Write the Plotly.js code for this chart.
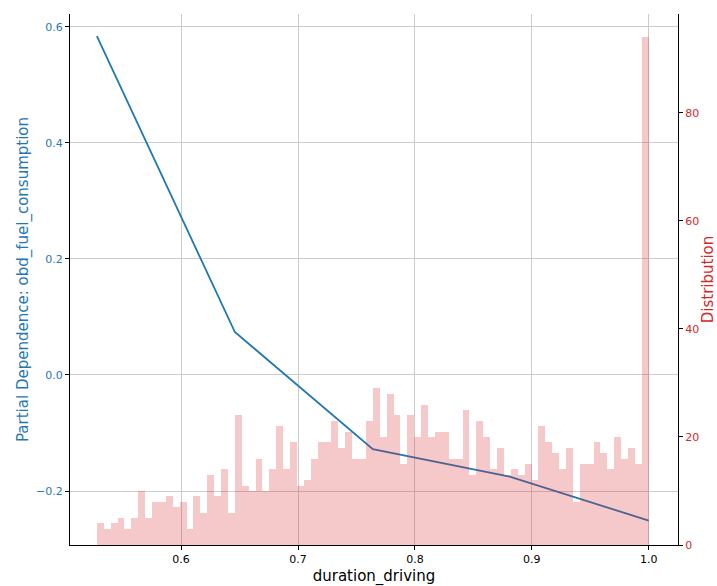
<!DOCTYPE html>
<html>
<head>
<meta charset="utf-8">
<script src="https://cdn.plot.ly/plotly-3.0.1.min.js"></script>
<style>body{margin:0;padding:0;background:#fff;}#chart{width:717px;height:586px;}</style>
</head>
<body>
<div id="chart"></div>
<script>
// Partial dependence line
const pdX = [0.528, 0.646, 0.764, 0.881, 1.0];
const pdY = [0.584, 0.074, -0.128, -0.175, -0.251];

// Histogram of duration_driving (80 bins)
const binStart = 0.528;
const binEnd = 1.0;
const counts = [
  4, 3, 4, 5, 3, 5, 10, 5, 8, 8,
  9, 7, 8, 3, 9, 6, 13, 9, 14, 6,
  24, 11, 10, 16, 10, 14, 22, 14, 19, 11,
  12, 16, 19, 19, 23, 18, 21, 16, 16, 23,
  29, 20, 28, 24, 15, 24, 20, 26, 20, 21,
  21, 16, 16, 25, 13, 23, 20, 14, 18, 13,
  14, 13, 15, 12, 22, 19, 17, 14, 18, 8,
  15, 15, 19, 17, 14, 20, 16, 18, 15, 94
];

const xTicks = [0.6, 0.7, 0.8, 0.9, 1.0];
const yTicks = [-0.2, 0.0, 0.2, 0.4, 0.6];
const y2Ticks = [0, 20, 40, 60, 80];

const binW = (binEnd - binStart) / counts.length;
const binCenters = counts.map((c, i) => binStart + binW * (i + 0.5));

const BLUE = '#1f77b4';
const RED = '#d62728';
const FONT = 'DejaVu Sans, sans-serif';

const traces = [
  {
    x: pdX, y: pdY, type: 'scatter', mode: 'lines',
    line: {color: BLUE, width: 1.8}, xaxis: 'x', yaxis: 'y', hoverinfo: 'skip'
  },
  {
    x: binCenters, y: counts, type: 'bar', width: binW,
    marker: {color: 'rgba(214,39,40,0.25)', line: {width: 0}},
    xaxis: 'x', yaxis: 'y2', hoverinfo: 'skip'
  }
];

const layout = {
  width: 717, height: 586,
  margin: {l: 70, r: 39, t: 14, b: 41, pad: 0},
  paper_bgcolor: '#fff', plot_bgcolor: '#fff',
  showlegend: false,
  bargap: 0,
  font: {family: FONT, size: 11, color: '#000'},
  xaxis: {
    range: [0.505, 1.025],
    tickvals: xTicks, ticktext: xTicks.map(v => v.toFixed(1)),
    showgrid: true, gridcolor: '#cccccc', gridwidth: 1,
    zeroline: false,
    showline: true, linecolor: '#000', linewidth: 1,
    ticks: 'outside', ticklen: 4, tickcolor: '#000',
    tickfont: {family: FONT, size: 11, color: '#000'},
    title: {text: 'duration_driving', font: {family: FONT, size: 15, color: '#000'}, standoff: 6}
  },
  yaxis: {
    range: [-0.293, 0.622],
    tickvals: yTicks, ticktext: yTicks.map(v => (v < 0 ? '\u2212' : '') + Math.abs(v).toFixed(1)),
    showgrid: true, gridcolor: '#cccccc', gridwidth: 1,
    zeroline: false,
    showline: true, linecolor: '#000', linewidth: 1,
    ticks: 'outside', ticklen: 4, tickcolor: '#000',
    tickfont: {family: FONT, size: 11, color: BLUE},
    title: {text: 'Partial Dependence: obd_fuel_consumption', font: {family: FONT, size: 15, color: BLUE}, standoff: 3}
  },
  yaxis2: {
    overlaying: 'y', side: 'right',
    range: [0, 98.3],
    tickvals: y2Ticks, ticktext: y2Ticks.map(String),
    showgrid: false, zeroline: false,
    showline: true, linecolor: '#000', linewidth: 1,
    ticks: 'outside', ticklen: 4, tickcolor: '#000',
    tickfont: {family: FONT, size: 11, color: RED},
    title: {text: 'Distribution', font: {family: FONT, size: 15, color: RED}, standoff: 12}
  }
};

Plotly.newPlot('chart', traces, layout, {staticPlot: true, displayModeBar: false});
</script>
</body>
</html>
